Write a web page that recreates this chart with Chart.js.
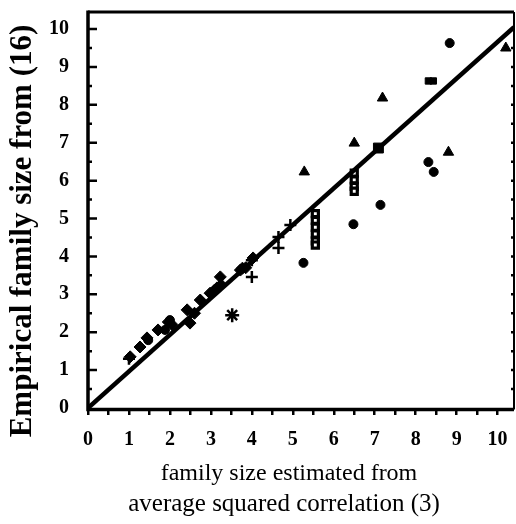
<!DOCTYPE html>
<html>
<head>
<meta charset="utf-8">
<script src="https://cdn.jsdelivr.net/npm/chart.js@4.4.1/dist/chart.umd.min.js"></script>
<style>
  html, body { margin: 0; padding: 0; background: #fff; }
  #wrap { width: 516px; height: 524px; }
</style>
</head>
<body>
<div id="wrap"><canvas id="famChart" width="516" height="524"></canvas></div>
<script>
/* family size: empirical vs. estimated from avg squared correlation */

const xTicks = [0, 1, 2, 3, 4, 5, 6, 7, 8, 9, 10];
const yTicks = [0, 1, 2, 3, 4, 5, 6, 7, 8, 9, 10];

const yTitle = 'Empirical family size from (16)';
const xTitle = ['family size estimated from', 'average squared correlation (3)'];

// reference line
const lineX = [0, 10.4];
const lineY = [0, 10.05];

// filled triangles
const triX = [5.28, 6.50, 7.19, 8.80, 10.2];
const triY = [6.23, 6.99, 8.18, 6.75, 9.50];

// filled dots
const dotX = [8.83, 8.31, 8.44, 7.14, 6.48, 5.26, 1.47, 1.88, 2.00];
const dotY = [9.63, 6.49, 6.23, 5.36, 4.85, 3.83, 1.79, 2.06, 2.32];

// filled squares
const sqX = [7.09, 8.31, 8.43];
const sqY = [6.86, 8.63, 8.63];

// open squares (two stacks)
const boxX = [5.55, 5.55, 5.55, 5.55, 5.55, 5.55, 6.50, 6.50, 6.50, 6.50];
const boxY = [5.13, 4.95, 4.77, 4.59, 4.41, 4.30, 6.20, 6.02, 5.85, 5.72];

// plus signs
const plusX = [4.00, 4.00, 4.65, 4.65, 4.94, 1.00];
const plusY = [3.46, 3.90, 4.22, 4.51, 4.83, 1.30];

// diamonds along the diagonal
const diaX = [1.03, 1.27, 1.44, 1.71, 1.96, 2.05, 2.42, 2.49, 2.60, 2.74, 2.98, 3.08, 3.15, 3.23, 3.25, 3.72, 3.77, 3.85, 4.03];
const diaY = [1.35, 1.61, 1.85, 2.06, 2.27, 2.20, 2.59, 2.24, 2.50, 2.85, 3.03, 3.10, 3.17, 3.46, 3.25, 3.64, 3.69, 3.70, 3.96];

// asterisk
const starX = [3.52];
const starY = [2.45];

const pts = (xs, ys) => xs.map((x, i) => ({ x, y: ys[i] }));
const serif = '"Liberation Serif", "DejaVu Serif", serif';

const marks = (data, style, radius, extra) => Object.assign({
  data, pointStyle: style, pointRadius: radius, pointHoverRadius: radius,
  backgroundColor: '#000', borderColor: '#000', borderWidth: 1, showLine: false
}, extra || {});

/* box around the plot, inward ticks on left/right, axis titles */
const frame = {
  id: 'frame',
  afterDraw(chart) {
    const { ctx, chartArea: a, scales } = chart;
    const ys = scales.y;
    ctx.save();
    ctx.strokeStyle = '#000';
    ctx.lineCap = 'butt';
    // left + bottom heavier than top + right
    ctx.lineWidth = 3.5;
    ctx.beginPath();
    ctx.moveTo(a.left, a.top - 1.5); ctx.lineTo(a.left, a.bottom + 1.5);
    ctx.lineTo(a.right, a.bottom + 1.5);
    ctx.stroke();
    ctx.lineWidth = 3;
    ctx.beginPath();
    ctx.moveTo(a.left, a.top); ctx.lineTo(a.right, a.top);
    ctx.stroke();
    ctx.lineWidth = 2;
    ctx.beginPath();
    ctx.moveTo(a.right, a.top); ctx.lineTo(a.right, a.bottom + 1.5);
    ctx.stroke();

    ctx.lineWidth = 2.5;
    for (let v = 0.5; v <= 10; v += 0.5) {
      const py = ys.getPixelForValue(v);
      const major = Number.isInteger(v);
      ctx.beginPath();
      ctx.moveTo(a.left, py); ctx.lineTo(a.left + (major ? 9 : 4), py);
      ctx.moveTo(a.right, py); ctx.lineTo(a.right - 3, py);
      ctx.stroke();
    }

    ctx.fillStyle = '#000';
    ctx.textAlign = 'center';
    ctx.textBaseline = 'middle';
    ctx.font = '24px ' + serif;
    ctx.fillText(xTitle[0], 289, 474);
    ctx.font = '25px ' + serif;
    ctx.fillText(xTitle[1], 284, 504);

    ctx.font = 'bold 31px ' + serif;
    ctx.translate(23, 231);
    ctx.rotate(-Math.PI / 2);
    ctx.fillText(yTitle, 0, 0);
    ctx.restore();
  }
};

new Chart(document.getElementById('famChart'), {
  type: 'scatter',
  data: {
    datasets: [
      {
        type: 'line', data: pts(lineX, lineY), borderColor: '#000', borderWidth: 4.5,
        pointRadius: 0, fill: false, tension: 0, order: 0
      },
      marks(pts(triX, triY), 'triangle', 6),
      marks(pts(dotX, dotY), 'circle', 4.5),
      marks(pts(sqX, sqY), 'rect', [7, 4.5, 4.5]),
      marks(pts(boxX, boxY), 'rect', 4.3, { backgroundColor: '#fff', borderWidth: 3.2 }),
      marks(pts(plusX, plusY), 'cross', 6, { borderWidth: 2.5 }),
      marks(pts(diaX, diaY), 'rectRot', 6),
      marks(pts(starX, starY), 'star', 7, { borderWidth: 2.5 })
    ]
  },
  options: {
    responsive: false,
    animation: false,
    layout: { autoPadding: false, padding: { top: 12, right: 2, left: 0, bottom: 0 } },
    plugins: { legend: { display: false }, tooltip: { enabled: false } },
    scales: {
      x: {
        type: 'linear', min: 0, max: 10.4,
        afterFit: s => { s.height = 116; s.paddingLeft = 0; s.paddingRight = 0; },
        border: { display: false },
        grid: { drawOnChartArea: false, drawTicks: true, tickLength: 7, color: '#000', lineWidth: 2.5 },
        ticks: {
          stepSize: 0.5, includeBounds: false, autoSkip: false, maxRotation: 0,
          padding: 13, color: '#000',
          font: { family: serif, size: 20, weight: 'bold' },
          callback: v => (Number.isInteger(v) && xTicks.includes(v) ? String(v) : '')
        }
      },
      y: {
        type: 'linear', min: 0, max: 10.45,
        afterFit: s => { s.width = 88; s.paddingTop = 0; s.paddingBottom = 0; },
        border: { display: false },
        grid: { display: false },
        ticks: {
          stepSize: 1, includeBounds: false, padding: 11, color: '#000',
          font: { family: serif, size: 20, weight: 'bold' },
          callback: v => (yTicks.includes(v) ? String(v) : '')
        }
      }
    }
  },
  plugins: [frame]
});
</script>
</body>
</html>
